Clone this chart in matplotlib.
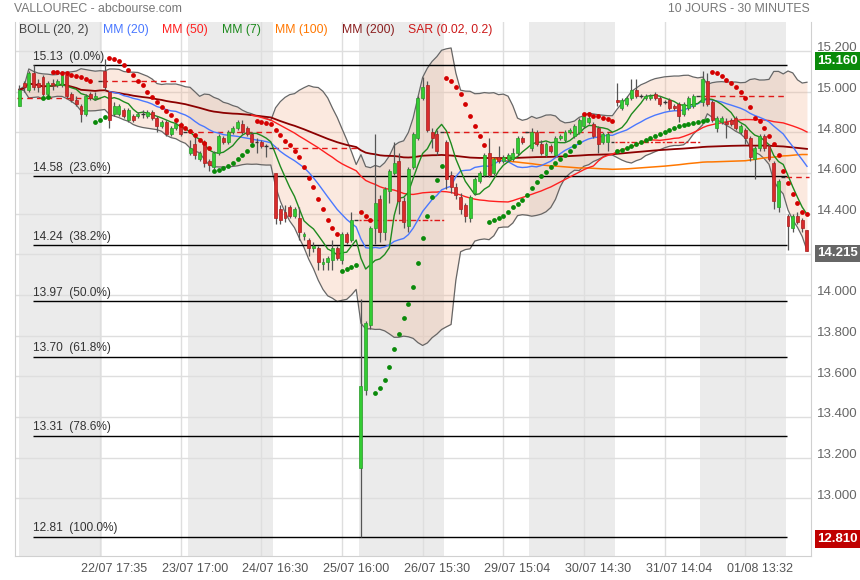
import numpy as np
import pandas as pd
import matplotlib
matplotlib.use("Agg")
import matplotlib.pyplot as plt
from matplotlib.transforms import blended_transform_factory, offset_copy

plt.rcParams['font.family'] = ['Liberation Sans', 'DejaVu Sans']

# ---------------- data (30-minute bars, 18 per day) ----------------
day_labels = ["22/07", "23/07", "24/07", "25/07", "26/07", "29/07", "30/07", "31/07", "01/08", "02/08"]
bars_per_day = 18

opens = [
    14.93, 15.04, 15.01, 15.09, 15.04, 15.07, 14.99, 15.04, 15.03, 15.03, 15.08, 14.99, 14.96, 14.93, 14.89, 14.99, 14.97, 15.05,
    15.10, 15.00, 14.89, 14.89, 14.91, 14.86, 14.88, 14.88, 14.89, 14.88, 14.90, 14.87, 14.83, 14.85, 14.79, 14.82, 14.84, 14.80,
    14.70, 14.74, 14.67, 14.75, 14.66, 14.63, 14.70, 14.77, 14.75, 14.80, 14.82, 14.84, 14.82, 14.79, 14.75, 14.75, 14.73, 14.72,
    14.60, 14.42, 14.41, 14.43, 14.39, 14.38, 14.29, 14.27, 14.23, 14.23, 14.15, 14.16, 14.17, 14.23, 14.17, 14.30, 14.27, 14.37,
    13.15, 13.53, 13.85, 14.33, 14.47, 14.31, 14.51, 14.60, 14.66, 14.46, 14.34, 14.63, 14.77, 14.97, 15.03, 14.80, 14.79, 14.80,
    14.75, 14.59, 14.53, 14.48, 14.44, 14.38, 14.50, 14.56, 14.59, 14.70, 14.60, 14.68, 14.66, 14.67, 14.67, 14.70, 14.77, 14.80,
    14.72, 14.80, 14.74, 14.69, 14.73, 14.69, 14.77, 14.76, 14.80, 14.78, 14.80, 14.83, 14.85, 14.84, 14.82, 14.75, 14.75, 14.75,
    14.96, 14.92, 14.94, 14.97, 15.01, 14.98, 14.97, 14.97, 14.99, 14.97, 14.95, 14.96, 14.93, 14.94, 14.89, 14.92, 14.93, 14.98,
    14.95, 15.05, 14.95, 14.82, 14.85, 14.85, 14.86, 14.87, 14.80, 14.81, 14.77, 14.67, 14.72, 14.78, 14.73, 14.65, 14.43, 14.58,
    14.39, 14.33, 14.39, 14.37, 14.32,
]
highs = [
    15.03, 15.05, 15.10, 15.13, 15.06, 15.08, 15.05, 15.06, 15.06, 15.09, 15.09, 15.00, 14.98, 14.94, 14.99, 15.00, 15.00, 15.05,
    15.16, 15.00, 14.95, 14.94, 14.92, 14.92, 14.89, 14.90, 14.91, 14.91, 14.91, 14.88, 14.86, 14.86, 14.83, 14.85, 14.85, 14.80,
    14.76, 14.79, 14.71, 14.76, 14.67, 14.71, 14.79, 14.78, 14.81, 14.83, 14.86, 14.86, 14.83, 14.80, 14.77, 14.76, 14.74, 14.72,
    14.60, 14.44, 14.44, 14.44, 14.43, 14.43, 14.31, 14.28, 14.26, 14.24, 14.18, 14.19, 14.27, 14.24, 14.31, 14.31, 14.41, 14.37,
    13.98, 13.87, 14.34, 14.79, 14.49, 14.53, 14.62, 14.75, 14.70, 14.48, 14.63, 14.80, 14.98, 15.07, 15.05, 14.82, 14.81, 14.80,
    14.76, 14.61, 14.55, 14.50, 14.45, 14.49, 14.58, 14.61, 14.70, 14.77, 14.68, 14.73, 14.69, 14.70, 14.72, 14.78, 14.78, 14.80,
    14.82, 14.81, 14.76, 14.75, 14.74, 14.78, 14.79, 14.81, 14.82, 14.84, 14.87, 14.89, 14.90, 14.85, 14.83, 14.80, 14.80, 14.75,
    15.04, 14.97, 14.98, 15.06, 15.06, 14.99, 14.99, 14.99, 15.00, 14.98, 14.96, 14.97, 14.94, 14.95, 14.95, 14.98, 14.99, 14.98,
    15.10, 15.09, 14.96, 14.88, 14.88, 14.87, 14.87, 14.88, 14.84, 14.82, 14.78, 14.73, 14.79, 14.79, 14.74, 14.66, 14.57, 14.58,
    14.40, 14.40, 14.41, 14.38, 14.32,
]
lows = [
    14.93, 15.00, 15.00, 15.01, 15.00, 14.98, 14.98, 15.01, 15.02, 15.02, 14.97, 14.95, 14.93, 14.85, 14.88, 14.96, 14.96, 15.05,
    15.01, 14.82, 14.88, 14.88, 14.87, 14.85, 14.85, 14.87, 14.87, 14.87, 14.86, 14.80, 14.82, 14.78, 14.78, 14.81, 14.78, 14.80,
    14.69, 14.67, 14.66, 14.63, 14.61, 14.62, 14.69, 14.74, 14.74, 14.79, 14.81, 14.79, 14.78, 14.74, 14.70, 14.72, 14.68, 14.72,
    14.35, 14.35, 14.36, 14.38, 14.38, 14.27, 14.27, 14.19, 14.21, 14.12, 14.12, 14.12, 14.12, 14.17, 14.15, 14.25, 14.26, 14.37,
    12.81, 13.51, 13.83, 14.25, 14.26, 14.27, 14.45, 14.59, 14.40, 14.33, 14.31, 14.62, 14.76, 14.96, 14.80, 14.72, 14.69, 14.80,
    14.52, 14.50, 14.47, 14.40, 14.36, 14.36, 14.49, 14.55, 14.58, 14.58, 14.59, 14.65, 14.65, 14.66, 14.66, 14.69, 14.74, 14.80,
    14.71, 14.73, 14.69, 14.68, 14.70, 14.68, 14.76, 14.75, 14.79, 14.77, 14.79, 14.82, 14.84, 14.77, 14.70, 14.74, 14.71, 14.75,
    14.93, 14.91, 14.93, 14.96, 14.97, 14.97, 14.96, 14.96, 14.96, 14.93, 14.94, 14.91, 14.91, 14.85, 14.88, 14.91, 14.92, 14.98,
    14.93, 14.93, 14.85, 14.80, 14.84, 14.77, 14.83, 14.81, 14.79, 14.74, 14.66, 14.57, 14.71, 14.71, 14.66, 14.42, 14.41, 14.58,
    14.22, 14.31, 14.35, 14.31, 14.215,
]
closes = [
    15.01, 15.02, 15.09, 15.02, 15.02, 14.99, 15.04, 15.03, 15.05, 15.08, 14.98, 14.96, 14.94, 14.89, 14.98, 14.97, 14.98, 15.05,
    15.02, 14.86, 14.93, 14.93, 14.88, 14.91, 14.86, 14.89, 14.89, 14.90, 14.87, 14.83, 14.85, 14.79, 14.82, 14.84, 14.79, 14.80,
    14.72, 14.69, 14.70, 14.65, 14.64, 14.70, 14.78, 14.75, 14.80, 14.82, 14.85, 14.80, 14.79, 14.75, 14.75, 14.73, 14.73, 14.72,
    14.38, 14.37, 14.38, 14.39, 14.42, 14.31, 14.30, 14.23, 14.24, 14.16, 14.16, 14.18, 14.23, 14.18, 14.30, 14.26, 14.37, 14.37,
    13.55, 13.86, 14.33, 14.45, 14.31, 14.52, 14.61, 14.65, 14.46, 14.36, 14.62, 14.79, 14.97, 15.02, 14.81, 14.77, 14.71, 14.80,
    14.57, 14.53, 14.49, 14.42, 14.39, 14.48, 14.57, 14.60, 14.69, 14.59, 14.67, 14.66, 14.68, 14.69, 14.70, 14.77, 14.75, 14.80,
    14.80, 14.74, 14.70, 14.74, 14.71, 14.77, 14.78, 14.80, 14.81, 14.83, 14.86, 14.88, 14.87, 14.78, 14.74, 14.79, 14.79, 14.75,
    14.95, 14.96, 14.97, 15.01, 14.98, 14.98, 14.98, 14.98, 14.97, 14.94, 14.95, 14.92, 14.92, 14.88, 14.94, 14.97, 14.98, 14.98,
    15.06, 14.94, 14.86, 14.87, 14.87, 14.84, 14.84, 14.82, 14.83, 14.77, 14.68, 14.72, 14.78, 14.72, 14.67, 14.46, 14.56, 14.58,
    14.34, 14.39, 14.36, 14.33, 14.215,
]
# Parabolic SAR (0.02, 0.2) as drawn on the chart, one value per bar (nan = no dot)
sar_values = [
    np.nan, np.nan, np.nan, np.nan, np.nan, 14.97, 14.975, 15.095, 15.095, 15.09, 15.09, 15.08, 15.075, 15.07, 15.06, 15.05, 14.85, 14.86,
    14.875, 15.164, 15.159, 15.152, 15.13, 15.106, 15.081, 15.054, 15.03, 14.999, 14.975, 14.95, 14.925, 14.905, 14.884, 14.86, 14.835, 14.82,
    14.805, 14.785, 14.76, 14.745, 14.72, 14.61, 14.615, 14.625, 14.635, 14.65, 14.67, 14.69, 14.71, 14.737, 14.855, 14.85, 14.845, 14.84,
    14.81, 14.785, 14.757, 14.735, 14.71, 14.677, 14.63, 14.575, 14.53, 14.47, 14.42, 14.37, 14.33, 14.30, 14.117, 14.127, 14.137, 14.147,
    14.41, 14.39, 14.37, 13.52, 13.54, 13.58, 13.645, 13.735, 13.81, 13.885, 13.955, 14.04, 14.155, 14.28, 14.39, 14.48, 14.565, 14.634,
    15.066, 15.05, 15.02, 14.99, 14.94, 14.88, 14.83, 14.78, 14.737, 14.36, 14.37, 14.38, 14.39, 14.41, 14.43, 14.447, 14.465, 14.49,
    14.525, 14.555, 14.585, 14.605, 14.63, 14.65, 14.67, 14.69, 14.71, 14.73, 14.75, 14.89, 14.89, 14.88, 14.88, 14.87, 14.865, 14.855,
    14.71, 14.715, 14.72, 14.73, 14.74, 14.75, 14.76, 14.77, 14.78, 14.79, 14.80, 14.81, 14.82, 14.83, 14.835, 14.84, 14.845, 14.85,
    14.855, 14.86, 15.095, 15.09, 15.078, 15.056, 15.04, 15.02, 15.00, 14.97, 14.925, 14.87, 14.855, 14.82, 14.78, 14.74, 14.69, 14.61,
    14.55, 14.495, 14.45, 14.41, 14.40,
]
first_prev_close = 14.967          # close before the window (first dashed line)
fib_high, fib_low = 15.13, 12.81
fib_ratios = [0.0, 0.236, 0.382, 0.5, 0.618, 0.786, 1.0]
tick_bars = [17, 34, 51, 68, 85, 102, 119, 136, 153]
tick_labels = ["22/07 17:35", "23/07 17:00", "24/07 16:30", "25/07 16:00", "26/07 15:30",
               "29/07 15:04", "30/07 14:30", "31/07 14:04", "01/08 13:32"]
box_values = [(15.160, '#0a8a0a'), (14.215, '#666666'), (12.810, '#c00000')]
y_ticks = [13.0, 13.2, 13.4, 13.6, 13.8, 14.0, 14.2, 14.4, 14.6, 14.8, 15.0, 15.2]

# ---------------- indicators ----------------
o = np.array(opens); h = np.array(highs); l = np.array(lows); c = np.array(closes)
n = len(c)
idx = np.arange(n)
cs = pd.Series(c)
mm7 = cs.rolling(7).mean()
mm20 = cs.rolling(20).mean()
mm50 = cs.rolling(50).mean()
mm100 = cs.rolling(100).mean()
mm200 = cs.rolling(200, min_periods=1).mean()
bmid = cs.rolling(20, min_periods=1).mean()
bstd = cs.rolling(20, min_periods=1).std(ddof=0)
bup = bmid + 2 * bstd
blo = bmid - 2 * bstd
sar = np.array(sar_values, dtype=float)
below = sar < (h + l) / 2

# ---------------- figure ----------------
W, H = 860, 580
fig = plt.figure(figsize=(W / 100, H / 100), dpi=100)
L, R, T, B = 15, 811, 22, 556
ax = fig.add_axes([L / W, 1 - B / H, (R - L) / W, (B - T) / H])
x0px, dxpx = 19.3, 4.745
ax.set_xlim((L - x0px) / dxpx, (R - x0px) / dxpx)
ax.set_ylim(12.716, 15.342)

# day bands
ndays = len(day_labels)
for d in range(0, ndays, 2):
    ax.axvspan(max(d * bars_per_day - 0.5, -0.1), d * bars_per_day + bars_per_day - 0.5,
               color='#ebebeb', lw=0, zorder=0.1)

# grid
ax.set_yticks(y_ticks)
ax.set_xticks(tick_bars)
ax.tick_params(axis='both', length=0, labelbottom=False, labelleft=False)
ax.grid(True, color='#dedede', lw=1, zorder=0.5)
ax.set_axisbelow(True)
for side in ['left', 'right', 'bottom']:
    ax.spines[side].set_color('#d0d0d0')
ax.spines['top'].set_visible(False)

# y labels (right side), the 14.200 one is hidden under the last-price box
ytr = offset_copy(blended_transform_factory(ax.transAxes, ax.transData), fig=fig, x=6, y=2.5, units='dots')
for yt in y_ticks:
    if abs(yt - 14.2) < 1e-6:
        continue
    ax.text(1.0, yt, f'{yt:.3f}', transform=ytr, ha='left', va='center',
            fontsize=9.5, color='#666666', clip_on=False)

# x labels
tr = blended_transform_factory(ax.transData, ax.transAxes)
for tb, tl in zip(tick_bars, tick_labels):
    ax.text(tb + 3, -13 / (B - T), tl, transform=tr, ha='center', va='center',
            fontsize=9, color='#555555')

# Bollinger
ax.fill_between(idx, blo, bup, color='#f2b08c', alpha=0.28, lw=0, zorder=1)
ax.plot(idx, bup, color='#666666', lw=0.9, zorder=2)
ax.plot(idx, blo, color='#666666', lw=0.9, zorder=2)

# Fibonacci
for r in fib_ratios:
    lev = fib_high - r * (fib_high - fib_low)
    ax.hlines(lev, 2.9, 161.8, color='black', lw=1, zorder=2.5)
    ax.text(2.9, lev + 0.012, f'{lev:.2f}  ({r * 100:.1f}%)', ha='left', va='bottom',
            fontsize=8.6, color='#333333', zorder=6)

# previous close lines
for d in range(ndays):
    start = d * bars_per_day
    end = min(start + bars_per_day, n)
    lev = first_prev_close if d == 0 else c[start - 1]
    ls = (0, (1.5, 1.5, 4, 1.5)) if d in (4, 7) else (0, (4, 3))
    ax.hlines(lev, start - 0.5, end - 0.5, color='#e01818', lw=1, linestyles=[ls], zorder=3)

# moving averages
ax.plot(idx, mm200, color='#8b0000', lw=1.3, zorder=3)
ax.plot(idx, mm100, color='#ff7700', lw=1.1, zorder=3)
ax.plot(idx, mm50, color='#ff2020', lw=1.0, zorder=3)
ax.plot(idx, mm20, color='#4a78ff', lw=1.0, zorder=3)
ax.plot(idx, mm7, color='#1e8a1e', lw=1.0, zorder=3)

# candles
ax.vlines(idx, l, h, color='#555555', lw=0.9, zorder=4)
body = np.abs(c - o)
upc = c > o + 1e-9
dnc = c < o - 1e-9
doji = ~(upc | dnc)
ax.bar(idx[upc], body[upc], bottom=np.minimum(o, c)[upc], width=0.62,
       color='#33cc33', edgecolor='#2a9a2a', lw=0.5, zorder=4.5)
ax.bar(idx[dnc], body[dnc], bottom=np.minimum(o, c)[dnc], width=0.62,
       color='#d92b2b', edgecolor='#a81e1e', lw=0.5, zorder=4.5)
ax.hlines(c[doji], idx[doji] - 0.4, idx[doji] + 0.4, color='#333333', lw=1, zorder=4.5)

# SAR
ok = ~np.isnan(sar)
ax.scatter(idx[ok & below], sar[ok & below], s=12, color='#0a8a0a', zorder=5, lw=0)
ax.scatter(idx[ok & ~below], sar[ok & ~below], s=12, color='#d40000', zorder=5, lw=0)

# value boxes
for val, colr in box_values:
    ax.annotate(f'{val:.3f}', xy=(1, val), xycoords=('axes fraction', 'data'),
                xytext=(4.5, -1.5), textcoords='offset points', ha='left', va='center',
                fontsize=9.5, fontweight='bold', color='white', zorder=10,
                bbox=dict(boxstyle='square,pad=0.2', fc=colr, ec='none'))

# titles / legend
fig.text(14 / W, 1 - 9 / H, 'VALLOUREC - abcbourse.com', ha='left', va='center', fontsize=8.8, color='#777777')
fig.text(810 / W, 1 - 9 / H, '10 JOURS - 30 MINUTES', ha='right', va='center', fontsize=8.8, color='#777777')
legend_items = [('BOLL (20, 2)', '#444444', 19), ('MM (20)', '#4a78ff', 103), ('MM (50)', '#ff2020', 162),
                ('MM (7)', '#1e8a1e', 222), ('MM (100)', '#ff7700', 275), ('MM (200)', '#8b2020', 342),
                ('SAR (0.02, 0.2)', '#cc1a1a', 408)]
for txt, colr, xp in legend_items:
    fig.text(xp / W, 1 - 30 / H, txt, ha='left', va='center', fontsize=8.8, color=colr)

fig.savefig('out.png', dpi=100)
